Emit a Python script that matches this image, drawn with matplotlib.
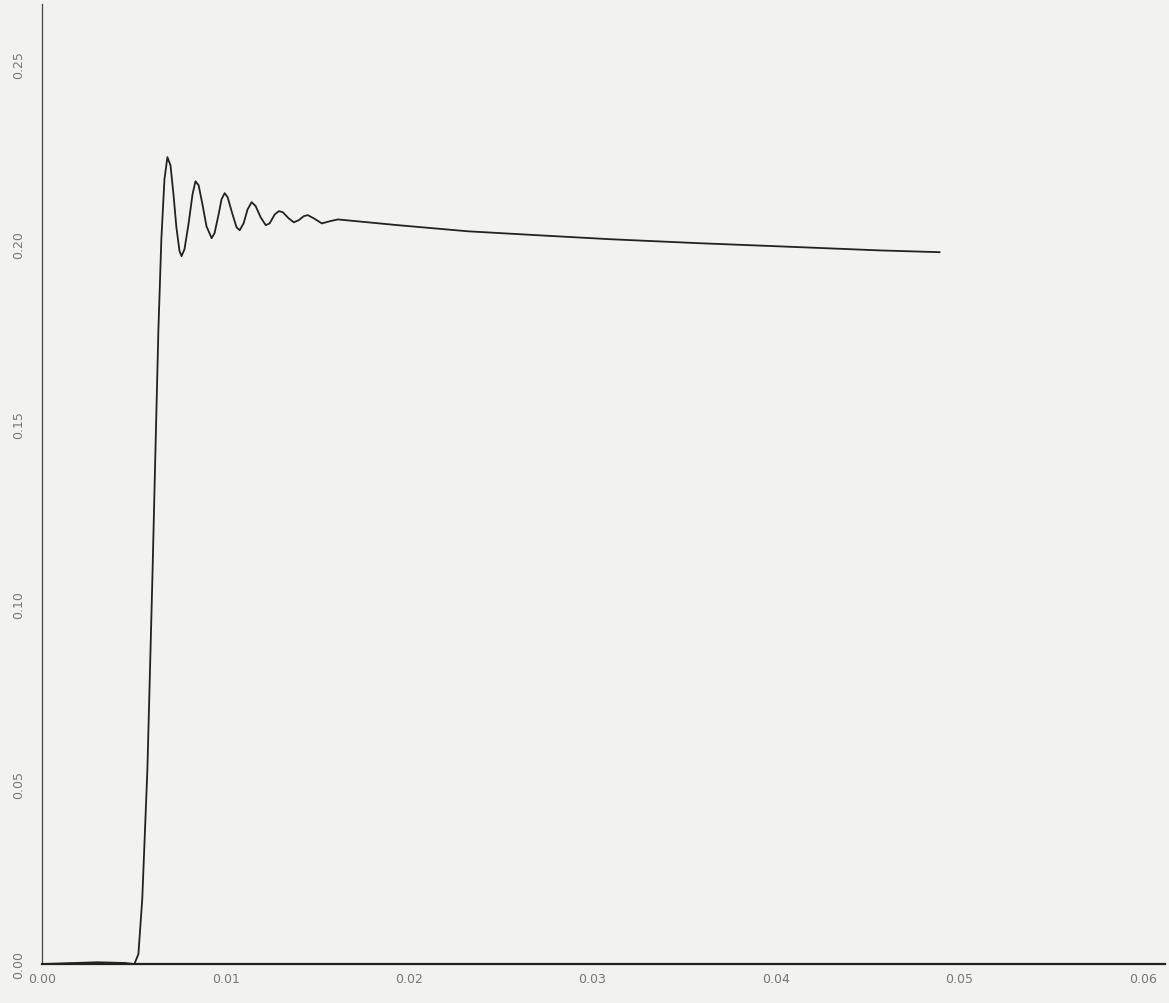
import numpy as np
import matplotlib.pyplot as plt

#%% data
t = [0.0, 0.0030, 0.0045, 0.00503, 0.00525, 0.00546, 0.00574, 0.00601, 0.00618,
     0.00634, 0.00650, 0.00667, 0.00683, 0.00700, 0.00716, 0.00732, 0.00749,
     0.00760, 0.00776, 0.00798, 0.00820, 0.00836, 0.00853, 0.00874, 0.00896,
     0.00924, 0.00940, 0.00962, 0.00978, 0.00995, 0.01011, 0.01038, 0.01060,
     0.01077, 0.01098, 0.01120, 0.01142, 0.01164, 0.01191, 0.01219, 0.01240,
     0.01268, 0.01290, 0.01312, 0.01344, 0.01372, 0.01399, 0.01426, 0.01448,
     0.01481, 0.01525, 0.01568, 0.01612, 0.01940, 0.02322, 0.02705, 0.03098,
     0.03579, 0.04126, 0.04563, 0.04891]
resp = [0.0, 0.0005, 0.0003, 0.0, 0.0028, 0.0181, 0.0542, 0.1069, 0.1431,
        0.1764, 0.2014, 0.2181, 0.2242, 0.2219, 0.2139, 0.2047, 0.1981,
        0.1967, 0.1986, 0.2056, 0.2139, 0.2175, 0.2164, 0.2111, 0.2050,
        0.2017, 0.2031, 0.2083, 0.2125, 0.2142, 0.2131, 0.2083, 0.2047,
        0.2039, 0.2058, 0.2097, 0.2117, 0.2106, 0.2075, 0.2053, 0.2058,
        0.2083, 0.2092, 0.2089, 0.2072, 0.2061, 0.2067, 0.2078, 0.2081,
        0.2072, 0.2058, 0.2064, 0.2069, 0.2053, 0.2036, 0.2025, 0.2014,
        0.2003, 0.1992, 0.1983, 0.1978]

xticks = [0.00, 0.01, 0.02, 0.03, 0.04, 0.05, 0.06]
xlabels = ['0.00', '0.01', '0.02', '0.03', '0.04', '0.05', '0.06']
yticks = [0.00, 0.05, 0.10, 0.15, 0.20, 0.25]
ylabels = ['0.00', '0.05', '0.10', '0.15', '0.20', '0.25']

#%% plot
fig = plt.figure(figsize=(11.69, 10.04), dpi=100, facecolor='#f2f2f0')
ax = fig.add_axes([0.036, 0.0388, 0.9606, 0.956])
ax.set_facecolor('#f2f2f0')

ax.plot(t, resp, color='#222222', lw=1.3, solid_joinstyle='round')

ax.set_xlim(0, 0.0612)
ax.set_ylim(0, 0.2667)
for s in ['top', 'right']:
    ax.spines[s].set_visible(False)
ax.spines['bottom'].set_color('#222222')
ax.spines['bottom'].set_linewidth(1.6)
ax.spines['left'].set_color('#444444')
ax.spines['left'].set_linewidth(0.9)

ax.set_xticks(xticks)
ax.set_xticklabels(xlabels, color='#777777', fontsize=9)
ax.set_yticks(yticks)
ax.set_yticklabels(ylabels, color='#777777', fontsize=9, rotation=90, va='center')
ax.tick_params(axis='both', length=0, pad=6)
ax.tick_params(axis='y', pad=12)

plt.savefig('out.png', facecolor=fig.get_facecolor())
